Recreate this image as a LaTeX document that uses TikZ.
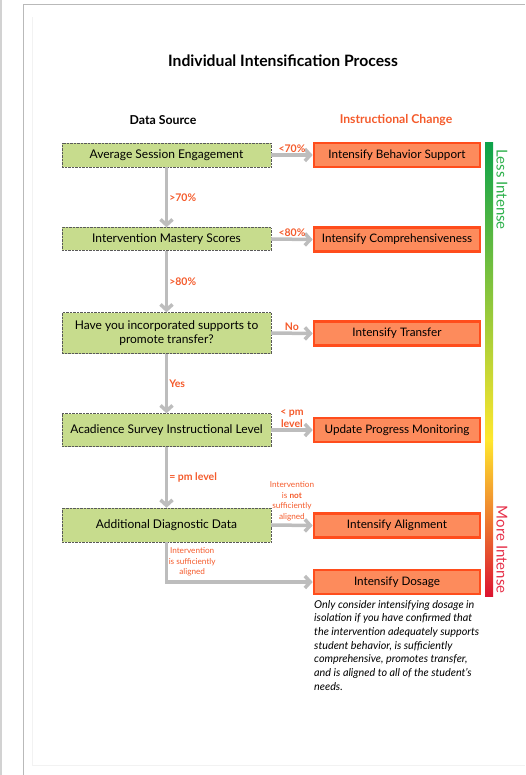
\documentclass[tikz,border=0pt]{standalone}
\usepackage{fontspec}
\setmainfont{Lato}
\usetikzlibrary{arrows.meta}
\definecolor{srcgreen}{HTML}{C7DC8D}
\definecolor{chgfill}{HTML}{FD8B5C}
\definecolor{chgedge}{HTML}{FF4D1C}
\definecolor{lblred}{HTML}{F45B2C}
\definecolor{flowgray}{HTML}{BDBDBD}
\definecolor{lessgreen}{HTML}{2DB04B}
\definecolor{morered}{HTML}{E63049}
\definecolor{bargreen}{HTML}{0DA24A}
\definecolor{barlime}{HTML}{A9C73A}
\definecolor{baryellow}{HTML}{FFE72E}
\definecolor{barorange}{HTML}{F49A2C}
\definecolor{barred}{HTML}{DC1430}
\tikzset{
	src/.style={draw=black!65, densely dotted, fill=srcgreen, minimum width=209pt, align=center, inner sep=1pt, font=\fontsize{12}{14.5}\selectfont},
	chg/.style={draw=chgedge, line width=2.6pt, fill=chgfill, minimum width=166pt, minimum height=24pt, inner sep=1pt, font=\fontsize{11.7}{13}\selectfont},
	flow/.style={flowgray, line width=3.5pt, -{Straight Barb[length=5.5pt, width=12pt]}},
	lbl/.style={text=lblred, font=\bfseries\fontsize{10.5}{11.5}\selectfont, inner sep=1pt, align=center},
	tinylbl/.style={text=lblred, font=\fontsize{8.2}{10.6}\selectfont, inner sep=0.5pt, align=center},
}
\newcommand{\pageframe}{
	\draw[gray!35, line width=2pt](1,0)--(1,775);
	\draw[gray!10](32,17)--(32,765)--(525,765);
	\draw[gray!55, line width=1pt](23.5,775)--(23.5,4.5)--(525,4.5)
}

\begin{document}
\begin{tikzpicture}[x=1pt, y=-1pt]
		\useasboundingbox(0,0)rectangle(525,775);
		\pageframe;
		\node[font=\bfseries\fontsize{15.7}{17}\selectfont](title)at(283, 61){Individual Intensification Process};
		\node[font=\bfseries\fontsize{12.3}{14}\selectfont](datasrc)at(163, 120){Data Source};
		\node[font=\bfseries\fontsize{12.2}{14}\selectfont, text=lblred](instchg)at(396, 120){Instructional Change};
		\node[src, minimum height=24pt](s1)at(166.5, 155){Average Session Engagement};
		\node[src, minimum height=23pt](s2)at(166.5, 239){Intervention Mastery Scores};
		\node[src, minimum height=41pt](s3)at(166.5, 333){Have you incorporated supports to\\promote transfer?};
		\node[src, minimum height=33pt](s4)at(166.5, 430){Acadience Survey Instructional Level};
		\node[src, minimum height=34pt](s5)at(166.5, 525){Additional Diagnostic Data};
		\node[chg](c1)at(397, 155){Intensify Behavior Support};
		\node[chg](c2)at(397, 239.5){Intensify Comprehensiveness};
		\node[chg](c3)at(397, 333.5){Intensify Transfer};
		\node[chg](c4)at(397, 430){Update Progress Monitoring};
		\node[chg](c5)at(397, 525.5){Intensify Alignment};
		\node[chg](c6)at(397, 582){Intensify Dosage};
		\draw[flow](s1.east)--node[lbl, above](l1){<70\%}(c1.west);
		\draw[flow](s2.east)--node[lbl, above](l2){<80\%}(c2.west);
		\draw[flow](s3.east)--node[lbl, above](l3){No}(c3.west);
		\draw[flow](s4.east)--node[lbl, above](l4){< pm\\level}(c4.west);
		\draw[flow](s5.east)--node[tinylbl, above, yshift=2pt](l5){Intervention\\is \textbf{not}\\sufficiently\\aligned}(c5.west);
		\draw[flow](s1.south)--node[lbl, right](d1){>70\%}(s2.north);
		\draw[flow](s2.south)--node[lbl, right](d2){>80\%}(s3.north);
		\draw[flow](s3.south)--node[lbl, right](d3){Yes}(s4.north);
		\draw[flow](s4.south)--node[lbl, right](d4){= pm level}(s5.north);
		\draw[flow](s5.south)|-node[tinylbl, right, pos=.25](d5){Intervention\\is sufficiently\\aligned}(c6.west);
		\shade[top color=bargreen, middle color=barlime, bottom color=baryellow](485, 143)rectangle(493, 440);
		\shade[top color=baryellow, middle color=barorange, bottom color=barred](485, 440)rectangle(493, 596);
		\node[rotate=-90, anchor=west, text=lessgreen, font=\fontsize{15}{17}\selectfont](less)at(502, 146){Less Intense};
		\node[rotate=-90, anchor=east, text=morered, font=\fontsize{15}{17}\selectfont](more)at(502, 597){More Intense};
		\node[anchor=north west, align=left, inner sep=0pt, font=\itshape\fontsize{10.8}{13.7}\selectfont](note)at(314, 600){Only consider intensifying dosage in\\isolation if you have confirmed that\\the intervention adequately supports\\student behavior, is sufficiently\\comprehensive, promotes transfer,\\and is aligned to all of the student’s\\needs.};
	\end{tikzpicture}
\end{document}
